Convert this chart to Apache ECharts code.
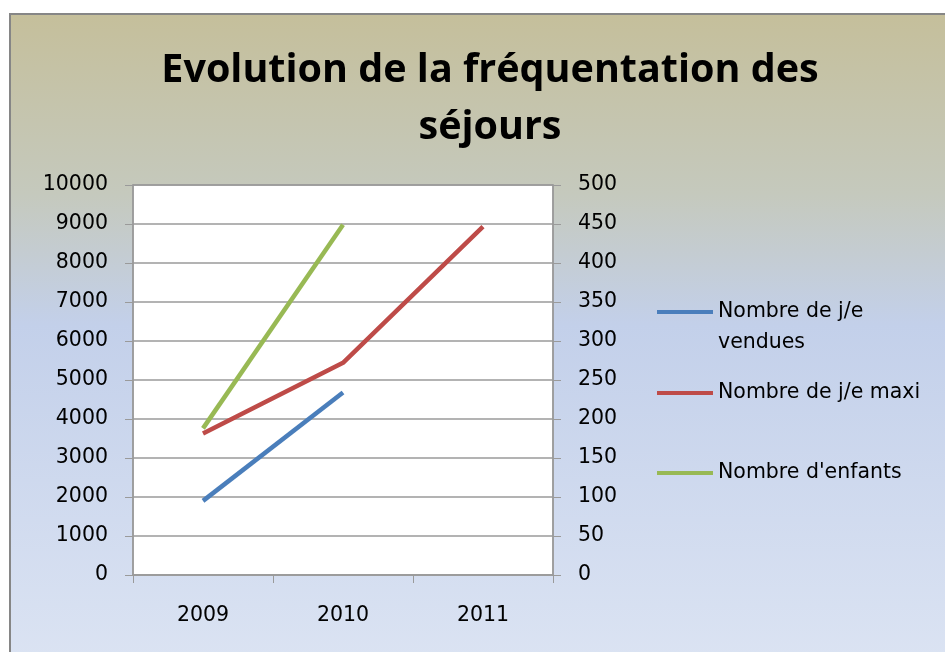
<!DOCTYPE html>
<html>
<head>
<meta charset="utf-8">
<script src="https://cdn.jsdelivr.net/npm/echarts@6/dist/echarts.min.js"></script>
<style>
  html, body { margin: 0; padding: 0; background: #fff; }
  #frame {
    position: absolute; left: 9px; top: 13px; width: 960px; height: 660px;
    border-left: 2px solid #868686; border-top: 2px solid #868686;
    background: linear-gradient(to bottom, #c5bf9b 0%, #c5c9bd 27%, #c3d0ea 47%, #dce4f3 100%);
  }
  #chart { position: absolute; left: 0; top: 0; width: 945px; height: 652px; }
</style>
</head>
<body>
<div id="frame"></div>
<div id="chart"></div>
<script>
const years = ['2009', '2010', '2011'];
const vendues = [1900, 4680, null];
const maxi = [3630, 5440, 8930];
const enfants = [188, 449, null];

const names = ['Nombre de j/e vendues', 'Nombre de j/e maxi', "Nombre d'enfants"];
const colors = ['#4a7ebb', '#be4b48', '#98b954'];
const titleFont = 'Open Sans';
const font = 'DejaVu Sans';

const chart = echarts.init(document.getElementById('chart'));

// one legend per entry so the spacing can follow the picture
// first entry wraps on two lines with the marker on the first one,
// so an empty line is put above to keep the marker centred on it
const lh = 31;
const markerY = [312, 393, 473];
const legends = names.map((n, i) => ({
  data: [n],
  orient: 'vertical',
  left: 657,
  top: i === 0 ? markerY[i] - lh * 1.5 : markerY[i] - lh / 2,
  icon: 'rect',
  itemWidth: 56,
  itemHeight: 4,
  itemGap: 0,
  padding: 0,
  formatter: i === 0 ? '{s| }\n{t|Nombre de j/e}\n{t|vendues}' : '{t|{name}}',
  textStyle: {
    fontFamily: font, fontSize: 20.5, color: '#000', lineHeight: lh,
    rich: {
      s: { fontFamily: font, fontSize: 20.5, lineHeight: lh },
      t: { fontFamily: font, fontSize: 20.5, color: '#000', lineHeight: lh }
    }
  }
}));

const axisFont = { fontFamily: font, fontSize: 20.5, color: '#000' };

const option = {
  animation: false,
  title: {
    text: 'Evolution de la fréquentation des\nséjours',
    left: 485,
    top: 37,
    textAlign: 'center',
    textStyle: { fontFamily: titleFont, fontSize: 39.5, fontWeight: 'bold', color: '#000', lineHeight: 57 }
  },
  legend: legends,
  grid: { left: 133, right: 392, top: 185, bottom: 77, show: true, backgroundColor: '#fff', borderColor: '#9a9a9a', borderWidth: 1.5 },
  xAxis: {
    type: 'category',
    data: years,
    boundaryGap: true,
    axisLine: { lineStyle: { color: '#9a9a9a', width: 1.5 } },
    axisTick: { show: true, length: 8, lineStyle: { color: '#9a9a9a' } },
    axisLabel: Object.assign({ margin: 30 }, axisFont)
  },
  yAxis: [
    {
      type: 'value', min: 0, max: 10000, interval: 1000,
      axisLine: { show: true, lineStyle: { color: '#9a9a9a', width: 1.5 } },
      axisTick: { show: true, length: 8, lineStyle: { color: '#9a9a9a' } },
      axisLabel: Object.assign({ margin: 25, padding: [5, 0, 0, 0], formatter: v => String(v) }, axisFont),
      splitLine: { lineStyle: { color: '#9a9a9a', width: 1.5 } }
    },
    {
      type: 'value', min: 0, max: 500, interval: 50, position: 'right',
      axisLine: { show: true, lineStyle: { color: '#9a9a9a', width: 1.5 } },
      axisTick: { show: true, length: 8, lineStyle: { color: '#9a9a9a' } },
      axisLabel: Object.assign({ margin: 25, padding: [5, 0, 0, 0], formatter: v => String(v) }, axisFont),
      splitLine: { show: false }
    }
  ],
  series: [
    { name: names[0], type: 'line', data: vendues, yAxisIndex: 0, symbol: 'none', color: colors[0], lineStyle: { width: 4.5 } },
    { name: names[1], type: 'line', data: maxi, yAxisIndex: 0, symbol: 'none', color: colors[1], lineStyle: { width: 4.5 } },
    { name: names[2], type: 'line', data: enfants, yAxisIndex: 1, symbol: 'none', color: colors[2], lineStyle: { width: 4.5 } }
  ]
};

chart.setOption(option);
</script>
</body>
</html>
